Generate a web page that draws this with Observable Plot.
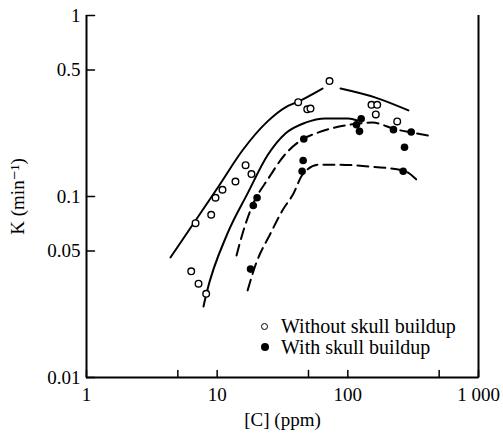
<!DOCTYPE html>
<html><head><meta charset="utf-8">
<script src="https://cdn.jsdelivr.net/npm/d3@7"></script>
<script src="https://cdn.jsdelivr.net/npm/@observablehq/plot@0.6"></script>
<style>
body{margin:0;background:#fff;}
#wrap{position:relative;width:503px;height:438px;font-family:"Liberation Serif","DejaVu Serif",serif;color:#000;}
#wrap svg text{font-family:"Liberation Serif","DejaVu Serif",serif;}
.leg{position:absolute;left:261px;font-size:20px;line-height:20px;white-space:nowrap;display:flex;align-items:center;}
.mk{display:inline-block;width:7px;height:7px;border-radius:50%;box-sizing:border-box;margin-right:13px;}
.mk.open{border:1.5px solid #000;background:#fff;}
.mk.fill{background:#000;width:8px;height:8px;margin-right:12px;}
</style></head><body><div id="wrap"></div>
<script>
// Axis ticks
const xTicks = [1, 5, 10, 50, 100, 500, 1000];
const xTickLabels = ["1", "5", "10", "50", "100", "500", "1 000"];
const yTicks = [0.01, 0.05, 0.1, 0.5, 1];
const yTickLabels = ["0.01", "0.05", "0.1", "0.5", "1"];

// Measured points: without skull buildup (open circles)
const openConc = [6.33, 7.2, 8.24, 6.83, 9.0, 9.71, 10.98, 13.8, 16.5, 18.3, 41.7, 48.9, 51.8, 72.4, 151.7, 167.8, 163.7, 238.7];
const openK    = [0.0386, 0.0330, 0.0290, 0.0712, 0.0793, 0.0984, 0.109, 0.121, 0.149, 0.133, 0.332, 0.303, 0.306, 0.434, 0.321, 0.321, 0.284, 0.260];

// Measured points: with skull buildup (filled circles)
const fillConc = [18.0, 18.9, 20.2, 46.0, 45.5, 44.7, 126.5, 116.5, 122.8, 223.5, 305.5, 271.5, 265.3];
const fillK    = [0.0397, 0.0892, 0.0984, 0.208, 0.158, 0.138, 0.269, 0.249, 0.229, 0.234, 0.227, 0.187, 0.138];

// Fitted curves
const curveA1Conc = [4.39, 6.71, 10.24, 15.6, 24.3, 33.3, 41.2, 64.0];
const curveA1K    = [0.046, 0.0723, 0.1135, 0.1795, 0.260, 0.311, 0.333, 0.395];
const curveA2Conc = [87.9, 163, 291];
const curveA2K    = [0.395, 0.352, 0.299];
const curveBConc = [7.86, 8.28, 12.0, 17.1, 24.3, 33.3, 47.4, 67.5, 101, 118.6];
const curveBK    = [0.0247, 0.0291, 0.0625, 0.104, 0.169, 0.223, 0.256, 0.270, 0.270, 0.263];
const curveCConc = [14.06, 15.9, 18.6, 24.7, 32.7, 45.0, 59.6, 96.0, 154.5, 231.6, 307, 414];
const curveCK    = [0.0472, 0.0649, 0.0892, 0.126, 0.169, 0.207, 0.226, 0.247, 0.256, 0.235, 0.226, 0.217];
const curveDConc = [17.1, 19.6, 25.6, 31.6, 38.4, 45.0, 59.6, 84.9, 136.5, 266.6, 341];
const curveDK    = [0.0303, 0.0416, 0.0625, 0.0838, 0.104, 0.132, 0.150, 0.150, 0.147, 0.139, 0.1225];

const legendLabels = ["Without skull buildup", "With skull buildup"];

const pts = (xs, ys) => xs.map((x, i) => ({x, y: ys[i]}));
const serif = "'Liberation Serif', 'DejaVu Serif', serif";
const tickShape = {draw(context, l) { context.moveTo(0, 0); context.lineTo(0, -l); }};

const chart = Plot.plot({
  width: 503, height: 438,
  marginLeft: 86, marginRight: 25, marginTop: 15, marginBottom: 61,
  style: {fontFamily: serif, fontSize: "18px", color: "#000", background: "#fff"},
  x: {type: "log", domain: [1, 1000]},
  y: {type: "log", domain: [0.01, 1]},
  marks: [
    Plot.axisX({ticks: xTicks, tickFormat: d => xTickLabels[xTicks.indexOf(d)], tickSize: 0, tickPadding: 10,
      label: "[C] (ppm)", labelAnchor: "center", labelArrow: "none", labelOffset: 48, fontSize: 19, fontFamily: serif}),
    Plot.axisY({ticks: yTicks, tickFormat: d => yTickLabels[yTicks.indexOf(d)], tickSize: 0, tickPadding: 6,
      label: "K (min⁻¹)", labelAnchor: "center", labelArrow: "none", labelOffset: 76, fontSize: 19, fontFamily: serif}),
    Plot.vector(xTicks, {x: d => d, frameAnchor: "bottom", length: 7, rotate: 0, anchor: "start", shape: tickShape, strokeWidth: 1.5}),
    Plot.vector(yTicks, {y: d => d, frameAnchor: "left", length: 8, rotate: 90, anchor: "start", shape: tickShape, strokeWidth: 1.5}),
    Plot.ruleX([1, 1000], {strokeWidth: 2}),
    Plot.ruleY([0.01], {strokeWidth: 2}),
    Plot.line(pts(curveA1Conc, curveA1K), {x: "x", y: "y", curve: "monotone-x", strokeWidth: 2}),
    Plot.line(pts(curveA2Conc, curveA2K), {x: "x", y: "y", curve: "monotone-x", strokeWidth: 2}),
    Plot.line(pts(curveBConc, curveBK), {x: "x", y: "y", curve: "monotone-x", strokeWidth: 2}),
    Plot.line(pts(curveCConc, curveCK), {x: "x", y: "y", curve: "monotone-x", strokeWidth: 2, strokeDasharray: "11,6"}),
    Plot.line(pts(curveDConc, curveDK), {x: "x", y: "y", curve: "monotone-x", strokeWidth: 2, strokeDasharray: "11,6"}),
    Plot.dot(pts(openConc, openK), {x: "x", y: "y", r: 3.3, fill: "white", stroke: "black", strokeWidth: 1.4}),
    Plot.dot(pts(fillConc, fillK), {x: "x", y: "y", r: 3.8, fill: "black"})
  ]
});
const wrap = document.getElementById("wrap");
wrap.appendChild(chart);
const l1 = document.createElement("div");
l1.className = "leg"; l1.style.top = "316px";
l1.innerHTML = '<span class="mk open"></span>' + legendLabels[0];
const l2 = document.createElement("div");
l2.className = "leg"; l2.style.top = "337px";
l2.innerHTML = '<span class="mk fill"></span>' + legendLabels[1];
wrap.appendChild(l1); wrap.appendChild(l2);
</script>
</body></html>
